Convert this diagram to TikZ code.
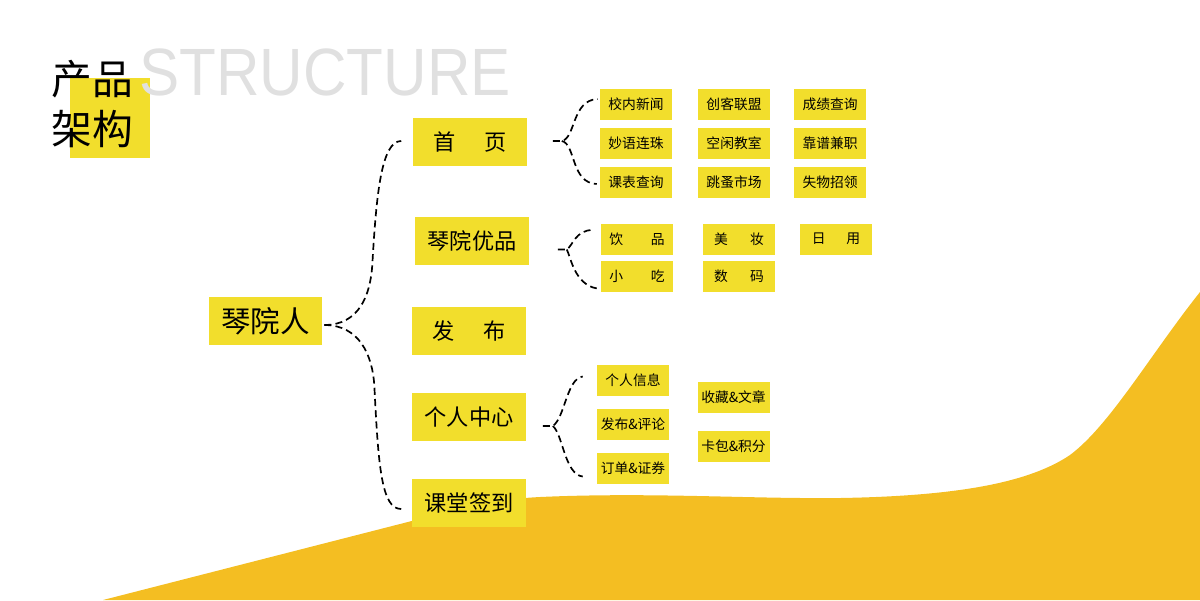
\documentclass[tikz,border=0pt]{standalone}
\usepackage{fontspec}
\usepackage{graphicx}
\setmainfont{Noto Sans CJK SC}
\newfontfamily\titlefont{Liberation Sans}
\usetikzlibrary{positioning,calc}
\definecolor{boxyellow}{RGB}{242,222,44}
\definecolor{waveyellow}{RGB}{244,190,34}
\definecolor{titlegray}{RGB}{224,224,224}

\begin{document}
\begin{tikzpicture}[
    x=0.025cm, y=-0.025cm,
    every node/.style={inner sep=0pt},
    titletext/.style={font=\fontsize{29pt}{34pt}\selectfont},
    root/.style={rectangle, fill=boxyellow, minimum width=2.825cm, minimum height=1.2cm,
                 font=\fontsize{21pt}{24pt}\selectfont},
    topic/.style={rectangle, fill=boxyellow, minimum width=2.825cm, minimum height=1.2cm,
                  font=\fontsize{15.8pt}{18pt}\selectfont},
    item/.style={rectangle, fill=boxyellow, minimum width=1.8cm, minimum height=0.775cm,
                 font=\fontsize{9.8pt}{11pt}\selectfont},
    brace/.style={line width=1.2pt, dash pattern=on 5pt off 3pt}
]
\useasboundingbox (0,0) rectangle (1200,600);
% fond
\fill[waveyellow] (103,600) -- (400,524) .. controls (440,514) and (480,500) .. (540,497)
    .. controls (650,492) and (750,499) .. (840,498)
    .. controls (960,496) and (1030,482) .. (1070,455)
    .. controls (1110,425) and (1150,355) .. (1200,292) -- (1200,600) -- cycle;
% titlu
\node[fill=boxyellow, minimum width=2cm, minimum height=2cm] (titlebox) at (110,118) {};
\node[anchor=base west, text=titlegray, font=\titlefont\fontsize{47.6pt}{50pt}\selectfont] (eng) at (139,95) {\scalebox{0.9}[1]{STRUCTURE}};
\node[titletext, anchor=base west] (chanpin) at (51,94) {产品};
\node[titletext, anchor=base west] (jiagou) at (51,144) {架构};
% radacina si primul nivel
\node[root] (qinyuan) at (265.5,321) {琴院人};
\node[topic] (shouye) at (470,142) {\makebox[3.3em][s]{首\hfill 页}};
\node[topic] (youpin) at (472,241) {琴院优品};
\node[topic] (fabu) at (469,331) {\makebox[3.3em][s]{发\hfill 布}};
\node[topic] (geren) at (469,417) {个人中心};
\node[topic] (ketang) at (469,503) {课堂签到};
%首页
\node[item] (xiaonei) at (636,104) {校内新闻};
\node[item, right of=xiaonei, node distance=2.45cm] (chuangke) {创客联盟};
\node[item, right of=chuangke, node distance=2.4cm] (chengji) {成绩查询};
\node[item, below of=xiaonei, node distance=0.975cm] (miaoyu) {妙语连珠};
\node[item, below of=chuangke, node distance=0.975cm] (kongxian) {空闲教室};
\node[item, below of=chengji, node distance=0.975cm] (kaopu) {靠谱兼职};
\node[item, below of=miaoyu, node distance=0.975cm] (kebiao) {课表查询};
\node[item, below of=kongxian, node distance=0.975cm] (tiaozao) {跳蚤市场};
\node[item, below of=kaopu, node distance=0.975cm] (shiwu) {失物招领};
% 琴院优品
\node[item] (yinpin) at (637,239) {\makebox[4em][s]{饮\hfill 品}};
\node[item, right of=yinpin, node distance=2.55cm] (meizhuang) {\makebox[3.6em][s]{美\hfill 妆}};
\node[item, right of=meizhuang, node distance=2.425cm] (riyong) {\makebox[3.5em][s]{日\hfill 用}};
\node[item, below of=yinpin, node distance=0.935cm] (xiaochi) {\makebox[4em][s]{小\hfill 吃}};
\node[item, below of=meizhuang, node distance=0.935cm] (shuma) {\makebox[3.6em][s]{数\hfill 码}};
% 个人中心
\node[item] (xinxi) at (633,380.5) {个人信息};
\node[item, below of=xinxi, node distance=1.1cm] (pinglun) {发布\&评论};
\node[item, below of=pinglun, node distance=1.1cm] (dingdan) {订单\&证券};
\node[item] (shoucang) at (733.5,397) {收藏\&文章};
\node[item, below of=shoucang, node distance=1.23cm] (kabao) {卡包\&积分};
% acolade
\draw[brace] ($(qinyuan.east)+(2,4)$) .. controls +(35,0) and +(-2,30) .. ++(48,-60)
    .. controls +(4,-70) and +(-20,0) .. ($(shouye.west)+(-12,-1)$);
\draw[brace] ($(qinyuan.east)+(2,4)$) .. controls +(35,0) and +(-2,-30) .. ++(50,60)
    .. controls +(4,80) and +(-20,0) .. ($(ketang.west)+(-11,6)$);
\coordinate (sy-fork) at ($(shouye.east)+(35,-1)$);
\draw[brace] ($(sy-fork)+(-9,0)$) -- (sy-fork) .. controls +(14,-3) and +(-26,1) .. ($(xiaonei.west)+(-2,-5)$);
\draw[brace] (sy-fork) .. controls +(14,3) and +(-26,-1) .. ($(kebiao.west)+(-3,2)$);
\coordinate (yp-fork) at ($(youpin.east)+(38,8.5)$);
\draw[brace] ($(yp-fork)+(-9,0)$) -- (yp-fork) .. controls +(6,-4) and +(-17,0) .. ($(yinpin.west)+(-8,-9)$);
\draw[brace] (yp-fork) .. controls +(4,8) and +(-22,-4) .. ($(xiaochi.west)+(-4,12)$);
\coordinate (gr-fork) at ($(geren.east)+(27,9)$);
\draw[brace] ($(gr-fork)+(-10,0)$) -- (gr-fork) .. controls +(12,-8) and +(-16,2) .. ($(xinxi.west)+(-14,-4)$);
\draw[brace] (gr-fork) .. controls +(10,8) and +(-18,-2) .. ($(dingdan.west)+(-14,8)$);
\end{tikzpicture}
\end{document}
